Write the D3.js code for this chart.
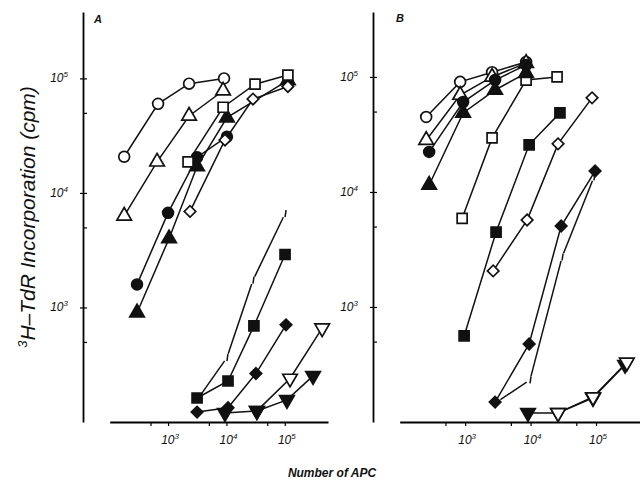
<!DOCTYPE html>
<html>
<head>
<meta charset="utf-8">
<script src="https://cdn.jsdelivr.net/npm/d3@7"></script>
<style>
  body { margin: 0; background: #fff; }
  svg text { font-family: "Liberation Sans", Arial, sans-serif; font-style: italic; fill: #111; }
</style>
</head>
<body>
<svg id="chart" width="640" height="489"></svg>
<script>

// values: [number of APC, cpm]
var A_OPEN_CIRCLE = [[177, 20700], [674, 60000], [2290, 90000], [9100, 100000]];
var A_OPEN_TRIANGLE = [[177, 6300], [648, 18700], [2290, 47000], [8770, 78000]];
var A_FILLED_CIRCLE = [[294, 1590], [1000, 6700], [3140, 20500], [10200, 31000]];
var A_FILLED_TRIANGLE = [[294, 900], [1040, 4000], [3140, 17000], [10200, 45500], [113000, 96000]];
var A_OPEN_SQUARE = [[2200, 18700], [8770, 56000], [30900, 89000], [113000, 107000]];
var A_OPEN_DIAMOND = [[2380, 6900], [9450, 29000], [28500, 66000], [113000, 85000]];
var A_FILLED_SQUARE = [[3140, 162], [10650, 228], [29600, 690], [101000, 2900]];
var A_BROKEN = [[3400, 165], [10200, 365], [28500, 1730], [101000, 6600]];
var A_FILLED_DIAMOND = [[3140, 122], [10650, 133], [32000, 265], [105000, 705]];
var A_OPEN_INV = [[33300, 125], [123000, 240], [437000, 660]];
var A_FILLED_INV = [[9450, 120], [33300, 125], [109000, 156], [305000, 253]];

var B_OPEN_CIRCLE = [[254, 44900], [839, 90600], [2580, 110000], [8540, 135000]];
var B_OPEN_TRIANGLE = [[254, 28200], [839, 69600], [2580, 100000], [8540, 132000]];
var B_FILLED_CIRCLE = [[282, 22300], [932, 60500], [2870, 94000], [8540, 127000]];
var B_FILLED_TRIANGLE = [[282, 11500], [932, 48700], [2870, 77000], [8540, 108000]];
var B_OPEN_SQUARE = [[900, 5900], [2580, 29500], [8540, 94000], [25400, 100000]];
var B_FILLED_SQUARE = [[965, 560], [2970, 4480], [9500, 25700], [28100, 48700]];
var B_OPEN_DIAMOND = [[2680, 2060], [8850, 5700], [26300, 26200], [87000, 65800]];
var B_FILLED_DIAMOND = [[2870, 149], [9500, 477], [29300, 5060], [96700, 15200]];
var B_BROKEN = [[3080, 150], [9800, 232], [30300, 2720], [93000, 13500]];
var B_FILLED_INV = [[9140, 120], [26300, 120], [90000, 162], [278000, 315]];
var B_OPEN_INV = [[26300, 120], [90000, 165], [296000, 330]];

var MAJOR_TICKS = [1e3, 1e4, 1e5];
var MINOR_TICKS = [500, 5000, 50000];
var PANEL_LABELS = ["A", "B"];

var MARKER_STROKE = 1.7;
var LINE_WIDTH = 1.5;
var BROKEN_GAP = 4;
var BROKEN_MARK = 7;

var svg = d3.select("#chart");

var panels = [
  {
    label: PANEL_LABELS[0],
    x: d3.scaleLog().domain([100, 5.5e5]).range([109.7, 328]),
    y: d3.scaleLog().domain([100, 3.8e5]).range([422, 12]),
    yAxisX: 83,
    labelPos: [94, 23],
    series: [
      {data: A_OPEN_CIRCLE, shape: "circle", filled: false},
      {data: A_OPEN_TRIANGLE, shape: "triangle", filled: false},
      {data: A_FILLED_TRIANGLE, shape: "triangle", filled: true},
      {data: A_FILLED_CIRCLE, shape: "circle", filled: true},
      {data: A_OPEN_SQUARE, shape: "square", filled: false},
      {data: A_OPEN_DIAMOND, shape: "diamond", filled: false},
      {data: A_BROKEN, shape: "broken", filled: false},
      {data: A_FILLED_SQUARE, shape: "square", filled: true},
      {data: A_FILLED_DIAMOND, shape: "diamond", filled: true},
      {data: A_OPEN_INV, shape: "inv", filled: false},
      {data: A_FILLED_INV, shape: "inv", filled: true}
    ]
  },
  {
    label: PANEL_LABELS[1],
    x: d3.scaleLog().domain([100, 4.7e5]).range([399.7, 640]),
    y: d3.scaleLog().domain([100, 3.67e5]).range([422, 12]),
    yAxisX: 373,
    labelPos: [396, 22],
    series: [
      {data: B_OPEN_SQUARE, shape: "square", filled: false},
      {data: B_OPEN_CIRCLE, shape: "circle", filled: false},
      {data: B_OPEN_TRIANGLE, shape: "triangle", filled: false},
      {data: B_FILLED_CIRCLE, shape: "circle", filled: true},
      {data: B_FILLED_TRIANGLE, shape: "triangle", filled: true},
      {data: B_FILLED_SQUARE, shape: "square", filled: true},
      {data: B_OPEN_DIAMOND, shape: "diamond", filled: false},
      {data: B_BROKEN, shape: "broken", filled: false},
      {data: B_FILLED_DIAMOND, shape: "diamond", filled: true},
      {data: B_FILLED_INV, shape: "inv", filled: true},
      {data: B_OPEN_INV, shape: "inv", filled: false}
    ]
  }
];

function markerPath(shape) {
  if (shape === "circle") return d3.symbol(d3.symbolCircle, 92)();
  if (shape === "square") return d3.symbol(d3.symbolSquare, 100)();
  if (shape === "triangle" || shape === "inv") return d3.symbol(d3.symbolTriangle, 92)();
  if (shape === "diamond") return d3.symbol(d3.symbolSquare, 66)();
  return null;
}

function markerRotation(shape) {
  if (shape === "inv") return 180;
  if (shape === "diamond") return 45;
  return 0;
}

function powerLabel(sel, v) {
  sel.append("tspan").text("10");
  sel.append("tspan")
    .attr("dy", -5)
    .style("font-size", "8px")
    .text(Math.round(Math.log10(v)));
}

panels.forEach(function (p) {
  var g = svg.append("g");
  var xBase = p.y.range()[0];

  // x axis
  var xAxis = g.append("g")
    .attr("transform", "translate(0," + xBase + ")")
    .call(d3.axisBottom(p.x).tickValues(MAJOR_TICKS.concat(MINOR_TICKS)).tickSize(4).tickSizeOuter(0).tickFormat(""));
  xAxis.select(".domain").attr("stroke-width", 1.8);
  xAxis.selectAll(".tick line").attr("stroke-width", 1.2);

  // y axis, ticks pointing inward plus short outer stubs on the decades
  var yAxis = g.append("g")
    .attr("transform", "translate(" + p.yAxisX + ",0)")
    .call(d3.axisRight(p.y).tickValues(MAJOR_TICKS.concat(MINOR_TICKS)).tickSize(4).tickSizeOuter(0).tickFormat(""));
  yAxis.select(".domain").attr("stroke-width", 1.8);
  yAxis.selectAll(".tick line").attr("stroke-width", 1.2);
  var yAxisOut = g.append("g")
    .attr("transform", "translate(" + p.yAxisX + ",0)")
    .call(d3.axisLeft(p.y).tickValues(MAJOR_TICKS).tickSize(3).tickSizeOuter(0).tickFormat(""));
  yAxisOut.select(".domain").remove();
  yAxisOut.selectAll(".tick line").attr("stroke-width", 1.2);

  MAJOR_TICKS.forEach(function (v) {
    var t = g.append("text")
      .attr("x", p.yAxisX - 15)
      .attr("y", p.y(v) + 4)
      .attr("text-anchor", "end")
      .style("font-size", "12px");
    powerLabel(t, v);

    var tx = g.append("text")
      .attr("x", p.x(v) + 2)
      .attr("y", xBase + 22)
      .attr("text-anchor", "middle")
      .style("font-size", "12px");
    powerLabel(tx, v);
  });

  g.append("text")
    .attr("x", p.labelPos[0])
    .attr("y", p.labelPos[1])
    .style("font-size", "11px")
    .style("font-weight", "bold")
    .text(p.label);

  var line = d3.line()
    .x(function (d) { return p.x(d[0]); })
    .y(function (d) { return p.y(d[1]); });

  // connecting lines first, markers on top
  p.series.forEach(function (s) {
    if (s.shape === "broken") {
      var pts = s.data.map(function (d) { return [p.x(d[0]), p.y(d[1])]; });
      for (var i = 1; i < pts.length; i++) {
        var dx = pts[i][0] - pts[i - 1][0], dy = pts[i][1] - pts[i - 1][1];
        var len = Math.sqrt(dx * dx + dy * dy);
        var ux = dx / len, uy = dy / len;
        g.append("line")
          .attr("x1", pts[i - 1][0] + ux * BROKEN_GAP)
          .attr("y1", pts[i - 1][1] + uy * BROKEN_GAP)
          .attr("x2", pts[i][0] - ux * BROKEN_GAP)
          .attr("y2", pts[i][1] - uy * BROKEN_GAP)
          .attr("stroke", "#111")
          .attr("stroke-width", LINE_WIDTH);
        g.append("line")
          .attr("x1", pts[i][0] + 1)
          .attr("y1", pts[i][1] - BROKEN_MARK / 2)
          .attr("x2", pts[i][0])
          .attr("y2", pts[i][1] + BROKEN_MARK / 2)
          .attr("stroke", "#111")
          .attr("stroke-width", LINE_WIDTH);
      }
      return;
    }
    g.append("path")
      .datum(s.data)
      .attr("d", line)
      .attr("fill", "none")
      .attr("stroke", "#111")
      .attr("stroke-width", LINE_WIDTH);
  });

  p.series.forEach(function (s) {
    if (s.shape === "broken") return;
    g.selectAll(null)
      .data(s.data)
      .enter().append("path")
      .attr("d", markerPath(s.shape))
      .attr("transform", function (d) {
        return "translate(" + p.x(d[0]) + "," + p.y(d[1]) + ") rotate(" + markerRotation(s.shape) + ")";
      })
      .attr("fill", s.filled ? "#111" : "#fff")
      .attr("stroke", "#111")
      .attr("stroke-width", MARKER_STROKE);
  });
});

// axis titles
var yTitle = svg.append("text")
  .attr("transform", "translate(35,217) rotate(-90)")
  .attr("text-anchor", "middle")
  .style("font-size", "21px");
yTitle.append("tspan").attr("dy", -8).style("font-size", "13px").text("3");
yTitle.append("tspan").attr("dy", 8).text("H\u2013TdR Incorporation  (cpm)");

svg.append("text")
  .attr("x", 332)
  .attr("y", 477)
  .attr("text-anchor", "middle")
  .style("font-size", "12px")
  .style("font-weight", "bold")
  .text("Number of APC");

</script>
</body>
</html>
